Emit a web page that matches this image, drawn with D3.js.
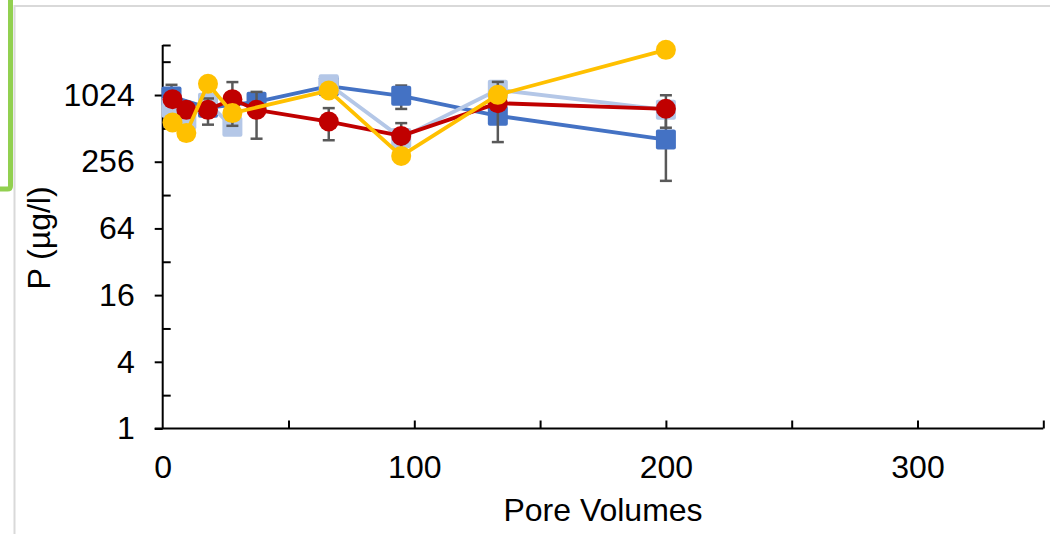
<!DOCTYPE html>
<html>
<head>
<meta charset="utf-8">
<script src="https://cdn.jsdelivr.net/npm/d3@7"></script>
<style>
  body { margin: 0; background: #fff; }
  svg { display: block; font-family: "Liberation Sans", Arial, sans-serif; }
</style>
</head>
<body>
<svg id="chart" width="1050" height="534"></svg>
<script>
// pore volumes (x) and P concentrations in ug/l (y)
var pvDarkBlue = [3.5, 18, 37.3, 66, 94.8, 133.2, 200],
    pDarkBlue = [993, 785, 889, 1230, 1007, 665, 406],
    errDarkBlue = [273, null, null, null, 240, null, 234];

var pvLightBlue = [3.5, 9.4, 18, 27.7, 37.3, 66, 94.8, 133.2, 200],
    pLightBlue = [785, 611, 871, 529, null, 1279, 420, 1141, 753];

var pvRed = [3.9, 9.4, 18, 27.7, 37.3, 66, 94.8, 133.2, 200],
    pRed = [940, 753, 753, 940, 753, 590, 438, 865, 769],
    errRed = [null, null, 200, 400, 340, 190, 133, 480, 250];

var pvYellow = [3.9, 9.4, 18, 27.7, 66, 94.8, 133.2, 200],
    pYellow = [578, 464, 1293, 703, 1124, 289, 1028, 2621];

var yMajorTicks = [1, 4, 16, 64, 256, 1024],
    yMinorTicks = [2, 8, 32, 128, 512, 2048],
    xLabelTicks = [0, 100, 200, 300],
    xMarkTicks = [50, 100, 150, 200, 250, 300, 350];

var svg = d3.select('#chart');

// frame of the chart object and the green selection bracket
svg.append('rect')
    .attr('x', 14.5).attr('y', 6)
    .attr('width', 1050).attr('height', 540)
    .attr('fill', 'none')
    .attr('stroke', '#d9d9d9')
    .attr('stroke-width', 2);
svg.append('path')
    .attr('d', 'M10.5,0 V186 Q10.5,189 7.5,189 H0')
    .attr('fill', 'none')
    .attr('stroke', '#92d050')
    .attr('stroke-width', 5);

var x = d3.scaleLinear().domain([0, 350]).range([162.7, 1043.3]),
    yMax = Math.pow(2, 11.5),
    y = d3.scaleLog().base(2).domain([1, yMax]).range([428.5, 45]);

var font = 32;

// y axis: labelled major ticks outside, minor ticks inside
var yAxis = svg.append('g')
    .attr('transform', 'translate(' + x(0) + ',0)')
    .call(d3.axisLeft(y).tickValues(yMajorTicks).tickSize(8).tickPadding(20)
        .tickFormat(d3.format('d')));
var yMinor = svg.append('g')
    .attr('transform', 'translate(' + x(0) + ',0)')
    .call(d3.axisRight(y).tickValues(yMinorTicks.concat([yMax])).tickSize(8).tickFormat(''));

// x axis: tick marks point up, labels every 100
var xMarks = svg.append('g')
    .attr('transform', 'translate(0,' + y(1) + ')')
    .call(d3.axisTop(x).tickValues(xMarkTicks).tickSize(8).tickFormat(''));
var xLabels = svg.append('g')
    .attr('transform', 'translate(0,' + y(1) + ')')
    .call(d3.axisBottom(x).tickValues(xLabelTicks).tickSize(0));

[yAxis, yMinor, xMarks, xLabels].forEach(function(g) {
    g.select('.domain').remove();
    g.selectAll('line').attr('stroke', '#000').attr('stroke-width', 2);
    g.selectAll('text').attr('font-size', font).attr('fill', '#000')
        .attr('font-family', '"Liberation Sans", Arial, sans-serif');
});
xLabels.selectAll('text').attr('dy', null).attr('y', 49);

svg.append('line')
    .attr('x1', x(0)).attr('x2', x(0))
    .attr('y1', y(1)).attr('y2', y(yMax))
    .attr('stroke', '#000').attr('stroke-width', 2);
svg.append('line')
    .attr('x1', x(0) - 8).attr('x2', x(350))
    .attr('y1', y(1)).attr('y2', y(1))
    .attr('stroke', '#000').attr('stroke-width', 2);

svg.append('text')
    .attr('x', (x(0) + x(350)) / 2).attr('y', 521)
    .attr('text-anchor', 'middle')
    .attr('font-size', font)
    .text('Pore Volumes');
svg.append('text')
    .attr('transform', 'translate(50,238) rotate(-90)')
    .attr('text-anchor', 'middle')
    .attr('font-size', font)
    .text('P (µg/l)');

function zip(xs, ys, errs) {
    return xs.map(function(d, i) {
        return { pv: d, p: ys[i], err: errs ? errs[i] : null };
    });
}

var series = [
    { data: zip(pvDarkBlue, pDarkBlue, errDarkBlue), color: '#4472c4', shape: 'square' },
    { data: zip(pvLightBlue, pLightBlue), color: '#b4c7e7', shape: 'square' },
    { data: zip(pvRed, pRed, errRed), color: '#c00000', shape: 'circle' },
    { data: zip(pvYellow, pYellow), color: '#ffc000', shape: 'circle' }
];

var line = d3.line()
    .defined(function(d) { return d.p !== null; })
    .x(function(d) { return x(d.pv); })
    .y(function(d) { return y(d.p); });

series.forEach(function(s) {
    var g = svg.append('g');
    var pts = s.data.filter(function(d) { return d.p !== null; });
    var errs = pts.filter(function(d) { return d.err; });

    g.append('path')
        .datum(s.data)
        .attr('d', line)
        .attr('fill', 'none')
        .attr('stroke', s.color)
        .attr('stroke-width', 3.8)
        .attr('stroke-linejoin', 'round');

    var eb = g.selectAll('.err').data(errs).enter().append('g')
        .attr('stroke', '#595959').attr('stroke-width', 2.5);
    eb.append('line')
        .attr('x1', function(d) { return x(d.pv); })
        .attr('x2', function(d) { return x(d.pv); })
        .attr('y1', function(d) { return y(d.p + d.err); })
        .attr('y2', function(d) { return y(d.p - d.err); });
    eb.append('line')
        .attr('x1', function(d) { return x(d.pv) - 6; })
        .attr('x2', function(d) { return x(d.pv) + 6; })
        .attr('y1', function(d) { return y(d.p + d.err); })
        .attr('y2', function(d) { return y(d.p + d.err); });
    eb.append('line')
        .attr('x1', function(d) { return x(d.pv) - 6; })
        .attr('x2', function(d) { return x(d.pv) + 6; })
        .attr('y1', function(d) { return y(d.p - d.err); })
        .attr('y2', function(d) { return y(d.p - d.err); });

    if (s.shape === 'square') {
        g.selectAll('.mark').data(pts).enter().append('rect')
            .attr('x', function(d) { return x(d.pv) - 10; })
            .attr('y', function(d) { return y(d.p) - 10; })
            .attr('width', 20).attr('height', 20)
            .attr('rx', 2)
            .attr('fill', s.color);
    } else {
        g.selectAll('.mark').data(pts).enter().append('circle')
            .attr('cx', function(d) { return x(d.pv); })
            .attr('cy', function(d) { return y(d.p); })
            .attr('r', 10)
            .attr('fill', s.color);
    }
});
</script>
</body>
</html>
